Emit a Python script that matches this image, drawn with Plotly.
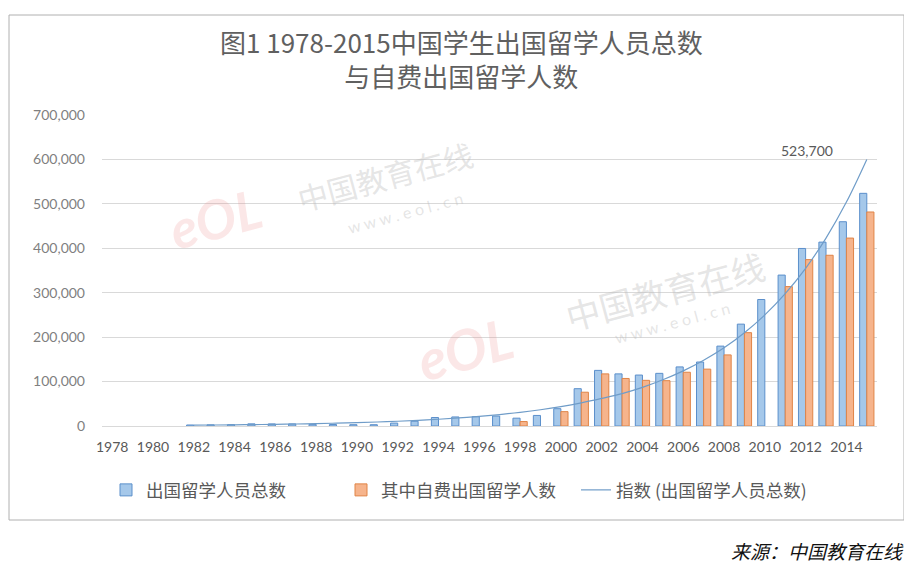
import plotly.graph_objects as go

years = list(range(1978, 2016))

# 出国留学人员总数
total = [None, None, None, None,
         2326, 2633, 3073, 4888, 4676, 4703, 3786, 3329, 2950, 2900,
         6540, 10742, 19071, 20381, 20905, 22410, 17622, 23749,
         38989, 83973, 125179, 117307, 114682, 118515, 133000, 144000,
         179800, 229300, 284700, 339700, 399600, 413900, 459800, 523700]

# 其中自费出国留学人数
self_funded = [None] * 20 + [10000, None,
               32293, 76052, 117300, 107000, 102800, 102000, 121000, 128000,
               160000, 210100, None, 313800, 374500, 384300, 423000, 481700]

# 指数 (出国留学人员总数) trend line
trend = [None, None, None, None,
         1900, 2200, 2600, 3200, 3800, 4500, 5300, 6400, 7600, 9000,
         10700, 12800, 15200, 18200, 21600, 25800, 30700, 36500,
         43500, 52000, 62000, 73000, 87000, 104000, 124000, 148000,
         176000, 210000, 250000, 298000, 355000, 423000, 504000, 600000]

y_ticks = [0, 100000, 200000, 300000, 400000, 500000, 600000, 700000]

title_lines = ["图1 1978-2015中国学生出国留学人员总数", "与自费出国留学人数"]
legend_names = ["出国留学人员总数", "其中自费出国留学人数", "指数 (出国留学人员总数)"]
source_text = "来源：中国教育在线"

fig = go.Figure()
fig.add_trace(go.Bar(
    x=years, y=total, name=legend_names[0],
    marker=dict(color="#A5C8EA", line=dict(color="#5B8FCB", width=1)),
))
fig.add_trace(go.Bar(
    x=years, y=self_funded, name=legend_names[1],
    marker=dict(color="#F6B48C", line=dict(color="#E08447", width=1)),
))
fig.add_trace(go.Scatter(
    x=years, y=trend, name=legend_names[2], mode="lines",
    line=dict(color="#6F9CC8", width=1.2, shape="spline"),
    connectgaps=False,
))

OFF = 8  # page body margin
W, H = 912 - OFF, 570 - OFF
L, R, T, B = 102 - OFF, 35, 115 - OFF, 144
pw, ph = W - L - R, H - T - B

def px(x):
    return (x - OFF - L) / pw

def py(y):
    return (H - B - (y - OFF)) / ph

annotations = [
    dict(text="<br>".join(title_lines), x=px(461), y=py(58), xref="paper", yref="paper",
         xanchor="center", yanchor="middle", showarrow=False,
         font=dict(size=26, color="#606060", family="Noto Sans CJK SC")),
    dict(text=f"{total[-1]:,}", x=years[-1], y=trend[-1], xref="x", yref="y",
         xanchor="right", yanchor="bottom", xshift=-32, yshift=-2, showarrow=False,
         font=dict(size=14, color="#595959", family="Lato")),
    dict(text=source_text, x=px(906), y=py(550), xref="paper", yref="paper",
         xanchor="right", yanchor="middle", showarrow=False,
         font=dict(size=19, color="#111111", family="Noto Sans CJK SC", style="italic")),
    # faint watermarks
    dict(text="中国教育在线", x=px(385), y=py(176), xref="paper", yref="paper",
         xanchor="center", yanchor="middle", showarrow=False, textangle=-15,
         font=dict(size=30, color="rgba(190,190,190,0.4)", family="Noto Sans CJK SC")),
    dict(text="w w w . e o l . c n", x=px(405), y=py(212), xref="paper", yref="paper",
         xanchor="center", yanchor="middle", showarrow=False, textangle=-15,
         font=dict(size=16, color="rgba(190,190,190,0.4)", family="Lato")),
    dict(text="<b><i>eOL</i></b>", x=px(215), y=py(218), xref="paper", yref="paper",
         xanchor="center", yanchor="middle", showarrow=False, textangle=-15,
         font=dict(size=54, color="rgba(235,120,120,0.18)", family="Lato")),
    dict(text="中国教育在线", x=px(665), y=py(290), xref="paper", yref="paper",
         xanchor="center", yanchor="middle", showarrow=False, textangle=-15,
         font=dict(size=34, color="rgba(190,190,190,0.4)", family="Noto Sans CJK SC")),
    dict(text="w w w . e o l . c n", x=px(672), y=py(322), xref="paper", yref="paper",
         xanchor="center", yanchor="middle", showarrow=False, textangle=-15,
         font=dict(size=16, color="rgba(190,190,190,0.4)", family="Lato")),
    dict(text="<b><i>eOL</i></b>", x=px(465), y=py(348), xref="paper", yref="paper",
         xanchor="center", yanchor="middle", showarrow=False, textangle=-15,
         font=dict(size=56, color="rgba(235,120,120,0.18)", family="Lato")),
]

shapes = [
    dict(type="rect", xref="paper", yref="paper",
         x0=px(9), x1=px(904), y0=py(520), y1=py(15),
         line=dict(color="#B0B0B0", width=1), layer="below"),
]

fig.update_layout(
    width=W, height=H,
    margin=dict(l=L, r=R, t=T, b=B, autoexpand=False),
    paper_bgcolor="white", plot_bgcolor="white",
    barmode="group", bargap=0.3, bargroupgap=0.0,
    font=dict(family="Lato", color="#595959"),
    showlegend=True,
    legend=dict(orientation="h", x=px(106), xanchor="left", y=py(490), yanchor="middle",
                font=dict(size=17.5, color="#595959", family="Noto Sans CJK SC"),
                entrywidth=190, entrywidthmode="pixels",
                tracegroupgap=0, traceorder="normal"),
    xaxis=dict(range=[1977.5, 2015.5], tickmode="linear", tick0=1978, dtick=2,
               showgrid=False, showline=True, linecolor="#D9D9D9", linewidth=1,
               ticks="", ticklabelstandoff=8,
               tickfont=dict(size=14, color="#595959", family="Lato"),
               fixedrange=True),
    yaxis=dict(range=[0, 700000], tickvals=y_ticks,
               ticktext=[f"{v:,}" for v in y_ticks],
               showgrid=True, gridcolor="#D9D9D9", gridwidth=1, zeroline=False,
               ticks="", ticklabelstandoff=16,
               tickfont=dict(size=14, color="#7F7F7F", family="Lato"),
               fixedrange=True),
    annotations=annotations,
    shapes=shapes,
)

fig.write_html("out.html")
